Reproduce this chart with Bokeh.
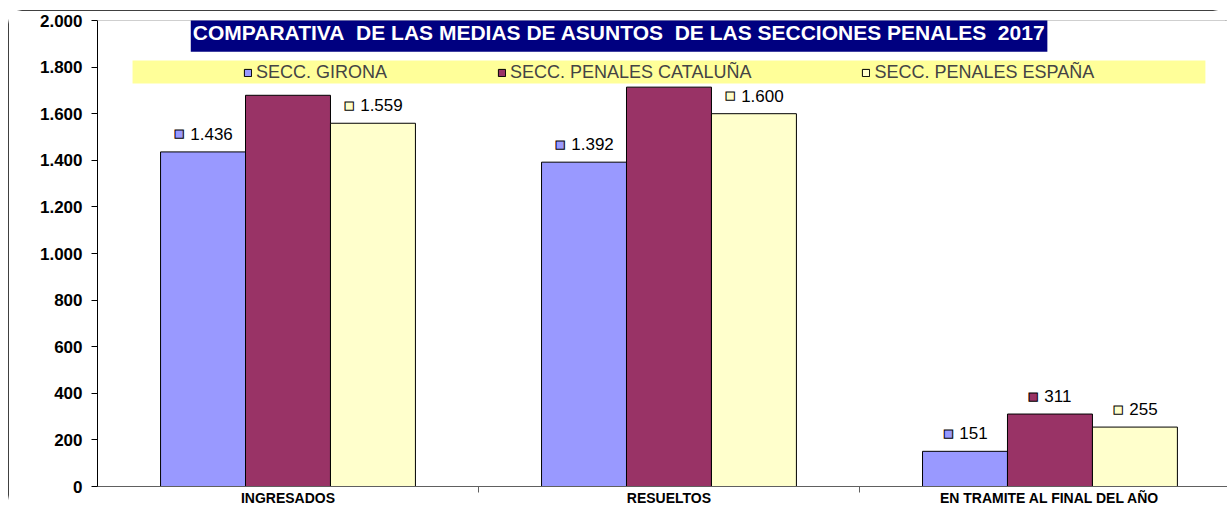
from bokeh.plotting import figure
from bokeh.models import FixedTicker, BoxAnnotation, Legend, LegendItem, Label, Span
from bokeh.core.properties import value
from bokeh.embed import file_html
from bokeh.resources import INLINE

# ---- data ----
categories = ["INGRESADOS", "RESUELTOS", "EN TRAMITE AL FINAL DEL AÑO"]
series = ["SECC. GIRONA", "SECC. PENALES CATALUÑA", "SECC. PENALES ESPAÑA"]
girona = [1436, 1392, 151]
cataluna = [1679, 1714, 311]
espana = [1559, 1600, 255]
y_ticks = [0, 200, 400, 600, 800, 1000, 1200, 1400, 1600, 1800, 2000]
y_tick_labels = ["0", "200", "400", "600", "800", "1.000", "1.200", "1.400", "1.600", "1.800", "2.000"]
title_text = "COMPARATIVA\u00a0 DE LAS MEDIAS DE ASUNTOS\u00a0 DE LAS SECCIONES PENALES\u00a0 2017"

colors = ["#9999FF", "#993366", "#FFFFCC"]
FONT = "Liberation Sans"
BAR_W = 0.223
LBL_SIZE = 17


def fmt(v):
    return f"{v:,}".replace(",", ".")


def text_w(s, size):
    return sum(0.556 if ch.isdigit() else 0.278 for ch in s) * size


p = figure(width=1219, height=499, x_range=(0, 2.966), y_range=(0, 2000),
           output_backend="svg", toolbar_location=None,
           min_border_left=89, min_border_right=0, min_border_top=10, min_border_bottom=23)
p.styles = {"margin": "10px 0px 0px 8px", "outline": "1px solid #000000",
            "outline-offset": "-1px", "border-radius": "14px"}
p.xgrid.visible = False
p.ygrid.visible = False
p.outline_line_color = None
p.background_fill_color = "white"
p.border_fill_color = "white"

p.add_layout(Span(location=2000, dimension="width", line_color="#A0A0A0", line_width=1))

renderers = []
all_vals = [girona, cataluna, espana]
for i, vals in enumerate(all_vals):
    xs = [c + 0.5 + (i - 1) * BAR_W for c in range(len(categories))]
    r = p.vbar(x=xs, top=vals, width=BAR_W, fill_color=colors[i],
               line_color="black", line_width=1)
    renderers.append(r)
    labels = [fmt(v) for v in vals]
    widths = [text_w(s, LBL_SIZE) for s in labels]
    groups = [8 + 7 + w for w in widths]
    sq_off = [-g / 2 + 4 + 1 for g in groups]
    tx_off = [-g / 2 + 15 + 1 for g in groups]
    p.text(x=xs, y=vals, text=["\u25A0"] * len(vals), x_offset=sq_off, y_offset=-18,
           text_align="center", text_baseline="middle",
           text_font=value("DejaVu Sans"), text_font_size="11px",
           text_color=colors[i], text_outline_color="black")
    p.text(x=xs, y=vals, text=labels, x_offset=tx_off, y_offset=-18,
           text_align="left", text_baseline="middle",
           text_font=value(FONT), text_font_size=f"{LBL_SIZE}px", text_color="black")

# legend band
p.add_layout(BoxAnnotation(left=0.092, right=2.908, bottom=1730, top=1828,
                           fill_color="#FFFF99", fill_alpha=1, line_color=None))

legend = Legend(items=[LegendItem(label=series[i], renderers=[renderers[i]]) for i in range(3)],
                orientation="horizontal", location=(146, 403), spacing=110,
                glyph_width=9, glyph_height=9, label_standoff=4,
                label_text_font=FONT, label_text_font_size="18px", label_height=17,
                padding=0, margin=0, border_line_color=None, background_fill_alpha=0)
p.add_layout(legend, "center")

p.add_layout(Label(x=1.369, y=1950, text=title_text, text_align="center", text_baseline="middle",
                   text_font=FONT, text_font_style="bold", text_font_size="21px",
                   text_color="white", background_fill_color="#000080", padding=(2, 8)))

# axes
p.yaxis.ticker = FixedTicker(ticks=y_ticks)
p.yaxis.major_label_overrides = {t: l for t, l in zip(y_ticks, y_tick_labels)}
p.yaxis.major_label_text_font = FONT
p.yaxis.major_label_text_font_style = "bold"
p.yaxis.major_label_text_font_size = "17px"
p.yaxis.major_label_text_color = "black"
p.yaxis.major_tick_out = 6
p.yaxis.major_tick_in = 0
p.yaxis.minor_tick_out = 0
p.yaxis.minor_tick_in = 0
p.yaxis.axis_line_color = "black"
p.yaxis.major_tick_line_color = "black"
p.yaxis.major_label_standoff = 9

cat_pos = [c + 0.5 for c in range(len(categories))]
p.xaxis.ticker = FixedTicker(ticks=cat_pos, minor_ticks=[1, 2])
p.xaxis.major_label_overrides = {t: l for t, l in zip(cat_pos, categories)}
p.xaxis.major_label_text_font = FONT
p.xaxis.major_label_text_font_style = "bold"
p.xaxis.major_label_text_font_size = "14px"
p.xaxis.major_label_text_line_height = 1.0
p.xaxis.major_label_text_color = "black"
p.xaxis.major_label_standoff = -3
p.xaxis.axis_label_standoff = 0
p.xaxis.major_tick_out = 0
p.xaxis.major_tick_in = 0
p.xaxis.minor_tick_out = 6
p.xaxis.minor_tick_in = 0
p.xaxis.axis_line_color = "#606060"
p.xaxis.minor_tick_line_color = "#606060"

open("out.html", "w").write(file_html(p, INLINE))
